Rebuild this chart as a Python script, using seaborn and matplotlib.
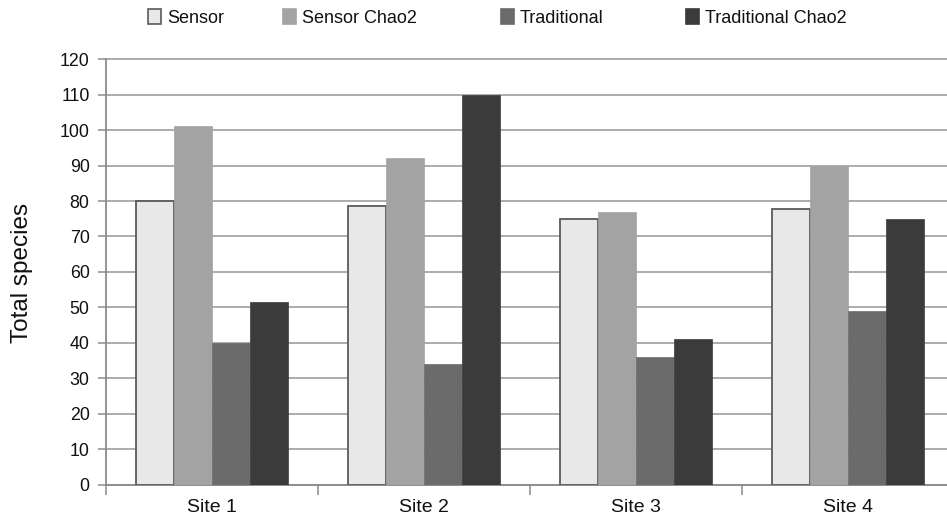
import matplotlib
matplotlib.use("Agg")
import matplotlib.pyplot as plt
from matplotlib.patches import Patch
from matplotlib.ticker import FixedLocator, NullFormatter, FixedFormatter
import seaborn as sns
import pandas as pd

# Species totals per site and survey method
sites = ["Site 1", "Site 2", "Site 3", "Site 4"]
methods = ["Sensor", "Sensor Chao2", "Traditional", "Traditional Chao2"]
sensor = [80, 78.7, 74.8, 77.8]
sensor_chao2 = [101.2, 92.1, 76.8, 89.9]
traditional = [40, 34, 36, 49]
traditional_chao2 = [51.6, 110, 41, 75]
y_ticks = list(range(0, 121, 10))

colors = ["#e8e8e8", "#a3a3a3", "#6b6b6b", "#3b3b3b"]

df = pd.DataFrame({
    "site": sites * 4,
    "method": [m for m in methods for _ in sites],
    "value": sensor + sensor_chao2 + traditional + traditional_chao2,
})

sns.set_style("white")
plt.rcParams["font.family"] = ["Liberation Sans", "DejaVu Sans"]

W, H = 947, 524
text_color = "#111111"
fig = plt.figure(figsize=(W / 100, H / 100), dpi=100)
ax = fig.add_axes([105.7 / W, (H - 484.5) / H, 848 / W, (484.5 - 59.3) / H])

sns.barplot(data=df, x="site", y="value", hue="method", hue_order=methods,
            order=sites, palette=colors, width=0.716, gap=0, dodge=True,
            saturation=1, legend=False, ax=ax, zorder=3)

for cont, c in zip(ax.containers, colors):
    for bar in cont:
        bar.set_facecolor(c)
        if c == colors[0]:
            bar.set_edgecolor("#5a5a5a")
            bar.set_linewidth(1.3)
        else:
            bar.set_edgecolor(c)
            bar.set_linewidth(0.5)

grey = "#8c8c8c"
ax.set_xlim(-0.5, 3.5)
ax.set_ylim(0, 120)
ax.set_yticks(y_ticks)
ax.set_yticklabels([str(t) for t in y_ticks])
ax.yaxis.grid(True, color="#a6a6a6", linewidth=1.3)
ax.set_axisbelow(True)
for gl in ax.get_ygridlines():
    gl.set_clip_on(False)

# category boundaries carry the tick marks, centres carry the labels
ax.xaxis.set_major_locator(FixedLocator([-0.5, 0.5, 1.5, 2.5, 3.5]))
ax.xaxis.set_major_formatter(NullFormatter())
ax.xaxis.set_minor_locator(FixedLocator([0, 1, 2, 3]))
ax.xaxis.set_minor_formatter(FixedFormatter(sites))
ax.tick_params(axis="x", which="major", direction="out", length=7.5,
               width=1.1, color=grey, bottom=True)
ax.tick_params(axis="x", which="minor", length=0, pad=10.5,
               labelsize=14, labelcolor=text_color)
ax.tick_params(axis="y", direction="out", length=5.8, width=1.1, color=grey,
               pad=5.8, labelsize=12.8, labelcolor=text_color, left=True)

for side in ("top", "right"):
    ax.spines[side].set_visible(False)
for side in ("left", "bottom"):
    ax.spines[side].set_color(grey)
    ax.spines[side].set_linewidth(1.3)

ax.set_xlabel("")
ax.set_ylabel("")
fig.text(22 / W, 1 - 272.5 / H, "Total species", rotation=90,
         ha="center", va="center", fontsize=17.5, color=text_color)

# one legend entry per method, laid out along the top edge
legend_x = [148, 283, 501, 686]
for i, (m, c, lx) in enumerate(zip(methods, colors, legend_x)):
    handle = Patch(facecolor=c, edgecolor=("#5a5a5a" if i == 0 else c),
                   linewidth=1.2)
    fig.legend([handle], [m], loc="center left",
               bbox_to_anchor=(lx / W, 1 - 18 / H), frameon=False,
               fontsize=13, handlelength=0.7, handleheight=0.85,
               handletextpad=0.35, borderpad=0, borderaxespad=0,
               labelcolor=text_color)

fig.savefig("out.png", dpi=100)
